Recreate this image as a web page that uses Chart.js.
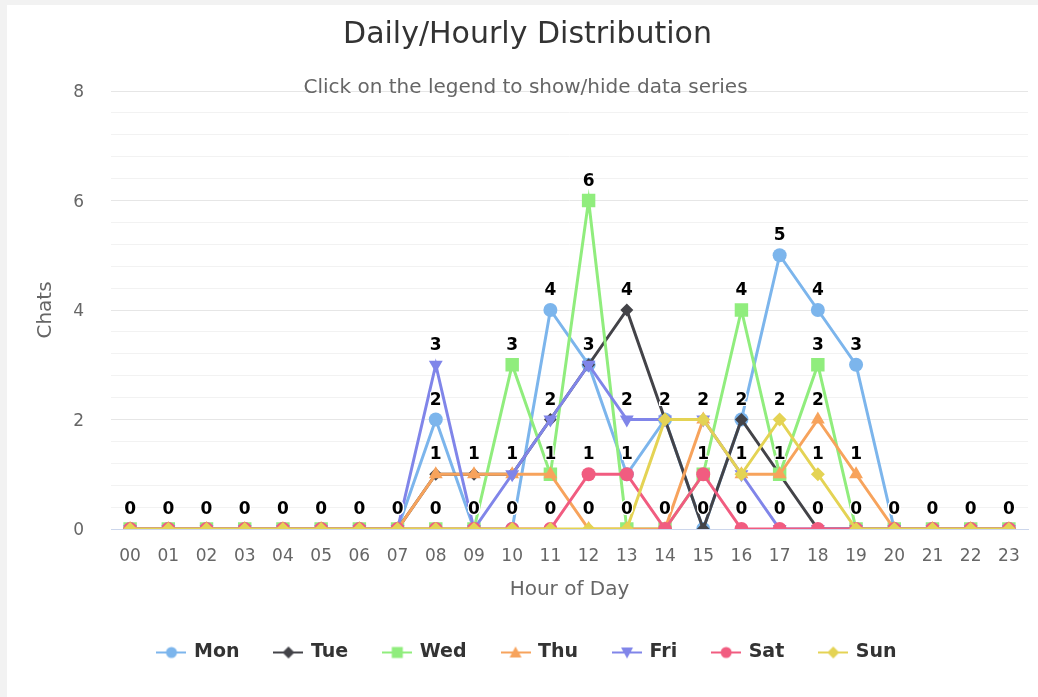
<!DOCTYPE html>
<html>
<head>
<meta charset="utf-8">
<script src="https://cdn.jsdelivr.net/npm/chart.js@4.4.1/dist/chart.umd.min.js"></script>
<style>
html, body { margin: 0; padding: 0; background: #f2f2f2; }
#wrap { position: absolute; left: 7px; top: 5px; width: 1031px; height: 692px; background: #fff; }
</style>
</head>
<body>
<div id="wrap"><canvas id="chart" width="1031" height="692"></canvas></div>
<script>
const hours = ["00","01","02","03","04","05","06","07","08","09","10","11","12","13","14","15","16","17","18","19","20","21","22","23"];
const days = ["Mon", "Tue", "Wed", "Thu", "Fri", "Sat", "Sun"];
const mon = [0,0,0,0,0,0,0,0,2,0,0,4,3,1,2,0,2,5,4,3,0,0,0,0];
const tue = [0,0,0,0,0,0,0,0,1,1,1,2,3,4,2,0,2,1,0,0,0,0,0,0];
const wed = [0,0,0,0,0,0,0,0,0,0,3,1,6,0,0,1,4,1,3,0,0,0,0,0];
const thu = [0,0,0,0,0,0,0,0,1,1,1,1,0,0,0,2,1,1,2,1,0,0,0,0];
const fri = [0,0,0,0,0,0,0,0,3,0,1,2,3,2,2,2,1,0,0,0,0,0,0,0];
const sat = [0,0,0,0,0,0,0,0,0,0,0,0,1,1,0,1,0,0,0,0,0,0,0,0];
const sun = [0,0,0,0,0,0,0,0,0,0,0,0,0,0,2,2,1,2,1,0,0,0,0,0];
const yTicksMajor = [0, 2, 4, 6, 8];

const colors = ["#7cb5ec", "#434348", "#90ed7d", "#f7a35c", "#8085e9", "#f15c80", "#e4d354"];
const markers = ["circle", "rectRot", "rect", "triangle", "triangleDown", "circle", "rectRot"];
const radii = [7, 6.5, 9.5, 8, 8, 7, 7];

Chart.defaults.font.family = "'DejaVu Sans', Verdana, sans-serif";
Chart.defaults.color = "#666";

// small line + marker pictures for the legend, like the original
function legendIcon(color, marker) {
    const c = document.createElement("canvas");
    c.width = 30; c.height = 16;
    const g = c.getContext("2d");
    g.strokeStyle = color; g.fillStyle = color; g.lineWidth = 2;
    g.beginPath(); g.moveTo(0, 8); g.lineTo(30, 8); g.stroke();
    g.beginPath();
    if (marker === "circle") g.arc(15, 8, 5.5, 0, Math.PI * 2);
    else if (marker === "rectRot") { g.moveTo(15, 2); g.lineTo(21, 8); g.lineTo(15, 14); g.lineTo(9, 8); }
    else if (marker === "rect") g.rect(9.5, 2.5, 11, 11);
    else if (marker === "triangle") { g.moveTo(15, 2); g.lineTo(21, 13); g.lineTo(9, 13); }
    else { g.moveTo(9, 3); g.lineTo(21, 3); g.lineTo(15, 14); }
    g.closePath(); g.fill();
    return c;
}

const series = [mon, tue, wed, thu, fri, sat, sun];
const datasets = series.map((vals, i) => ({
    label: days[i],
    data: vals,
    borderColor: colors[i],
    backgroundColor: colors[i],
    borderWidth: 3,
    pointStyle: markers[i] === "triangleDown" ? "triangle" : markers[i],
    pointRotation: markers[i] === "triangleDown" ? 180 : 0,
    pointRadius: radii[i],
    pointBorderWidth: 0,
    pointBackgroundColor: colors[i],
    tension: 0,
    order: series.length - 1 - i
}));

const valueLabels = {
    id: "valueLabels",
    afterDatasetsDraw(chart) {
        const c = chart.ctx;
        c.save();
        c.font = "bold 17px 'DejaVu Sans'";
        c.textAlign = "center";
        c.textBaseline = "alphabetic";
        c.lineJoin = "round";
        chart.data.datasets.forEach((ds, i) => {
            const meta = chart.getDatasetMeta(i);
            meta.data.forEach((pt, j) => {
                const t = String(ds.data[j]);
                c.strokeStyle = "#fff"; c.lineWidth = 2;
                c.strokeText(t, pt.x, pt.y - 15);
                c.fillStyle = "#000";
                c.fillText(t, pt.x, pt.y - 15);
            });
        });
        c.restore();
    }
};

const subtitle = {
    id: "subtitleOnGrid",
    afterDraw(chart) {
        const c = chart.ctx;
        c.save();
        c.font = "20px 'DejaVu Sans'";
        c.fillStyle = "#666";
        c.textAlign = "center";
        c.textBaseline = "middle";
        c.fillText("Click on the legend to show/hide data series", 518.5, 83);
        c.restore();
    }
};

new Chart(document.getElementById("chart"), {
    type: "line",
    data: { labels: hours, datasets: datasets },
    plugins: [valueLabels, subtitle],
    options: {
        responsive: false,
        animation: false,
        events: [],
        layout: { padding: { left: 20, right: 10, top: 0, bottom: 25 } },
        plugins: {
            title: {
                display: true,
                text: "Daily/Hourly Distribution",
                color: "#333",
                font: { size: 30, weight: "normal" },
                padding: { top: 12, bottom: 38 }
            },
            legend: {
                position: "bottom",
                labels: {
                    usePointStyle: true,
                    pointStyleWidth: 26,
                    padding: 36,
                    color: "#333",
                    font: { size: 19, weight: "bold" },
                    generateLabels(chart) {
                        const items = Chart.defaults.plugins.legend.labels.generateLabels(chart);
                        items.forEach(it => {
                            it.pointStyle = legendIcon(colors[it.datasetIndex], markers[it.datasetIndex]);
                            it.rotation = 0;
                        });
                        return items.sort((a, b) => a.datasetIndex - b.datasetIndex);
                    }
                }
            },
            tooltip: { enabled: false }
        },
        scales: {
            x: {
                offset: true,
                grid: { display: false, drawTicks: false },
                border: { display: true, color: "#ccd6eb", width: 1 },
                ticks: { padding: 17, font: { size: 17 }, color: "#666", autoSkip: false, maxRotation: 0 },
                title: { display: true, text: "Hour of Day", color: "#666", font: { size: 20 }, padding: { top: 0, bottom: 5 } },
                afterFit(s) { s.height = 78; }
            },
            y: {
                min: 0,
                max: 8,
                grid: {
                    drawTicks: false,
                    color: ctx => yTicksMajor.includes(ctx.tick.value) ? "#e6e6e6" : "#f2f2f2",
                    lineWidth: 1
                },
                border: { display: false },
                ticks: {
                    stepSize: 0.4,
                    autoSkip: false,
                    padding: 27,
                    labelOffset: 2,
                    font: { size: 17 },
                    color: "#666",
                    callback: v => yTicksMajor.includes(v) ? String(v) : ""
                },
                title: { display: true, text: "Chats", color: "#666", font: { size: 20 }, padding: { top: 7, bottom: 0 } },
                afterFit(s) { s.width = 84; }
            }
        }
    }
});
</script>
</body>
</html>
